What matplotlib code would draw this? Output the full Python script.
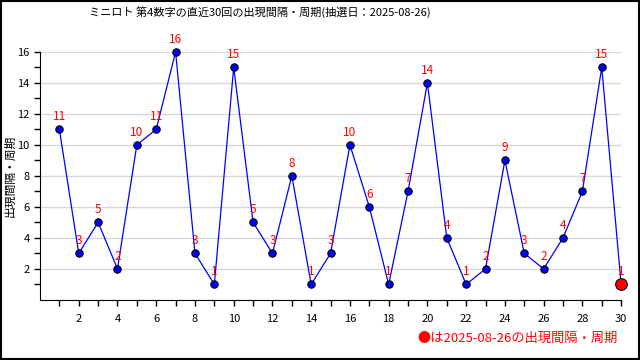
import matplotlib
matplotlib.use("Agg")
import matplotlib.pyplot as plt
from matplotlib.patches import Rectangle

plt.rcParams["font.family"] = ["Noto Sans CJK JP", "DejaVu Sans"]

DRAW_DATE = "2025-08-26"
TITLE = f"ミニロト 第4数字の直近30回の出現間隔・周期(抽選日：{DRAW_DATE})"
YLABEL = "出現間隔・周期"
draws = list(range(1, 31))
gaps = [11, 3, 5, 2, 10, 11, 16, 3, 1, 15, 5, 3, 8, 1, 3, 10, 6, 1, 7, 14,
        4, 1, 2, 9, 3, 2, 4, 7, 15, 1]

fig = plt.figure(figsize=(6.4, 3.6), dpi=100)
ax = fig.add_axes([0.0625, 0.167, 0.908, 0.689])

ax.plot(draws, gaps, color="blue", lw=0.9, zorder=2)
ax.scatter(draws[:-1], gaps[:-1], s=28, color="blue", edgecolor="black",
           linewidth=0.8, zorder=3, clip_on=False)
# latest draw highlighted in red
ax.scatter(draws[-1:], gaps[-1:], s=70, color="red", edgecolor="black",
           linewidth=0.8, zorder=3, clip_on=False)
for x, y in zip(draws, gaps):
    ax.annotate(str(y), (x, y), xytext=(0, 4.5), textcoords="offset points",
                ha="center", va="bottom", color="red", fontsize=8.5)

ax.set_xlim(0, 30)
ax.set_ylim(0, 16)
ax.set_xticks(range(2, 31, 2))
ax.set_xticks(range(1, 31), minor=True)
ax.set_yticks(range(2, 17, 2))
ax.set_yticks(range(1, 17), minor=True)
ax.yaxis.grid(True, color="#d8d8d8", lw=1)
ax.set_axisbelow(True)
ax.tick_params(which="both", labelsize=8, length=4, width=1, direction="out")
ax.tick_params(axis="x", pad=6)
for s in ("top", "right"):
    ax.spines[s].set_visible(False)
ax.set_ylabel(YLABEL, fontsize=8.5)
ax.yaxis.set_label_coords(-0.04, 0.5)

fig.text(0.406, 0.967, TITLE, ha="center", va="center", fontsize=8)
fig.text(0.966, 0.06, f"●は{DRAW_DATE}の出現間隔・周期", ha="right",
         va="center", color="red", fontsize=9.5)
fig.patches.append(Rectangle((0.0015, 0.003), 0.997, 0.994, transform=fig.transFigure,
                             fill=False, edgecolor="black", lw=1.5))

fig.savefig("out.png", dpi=100)
